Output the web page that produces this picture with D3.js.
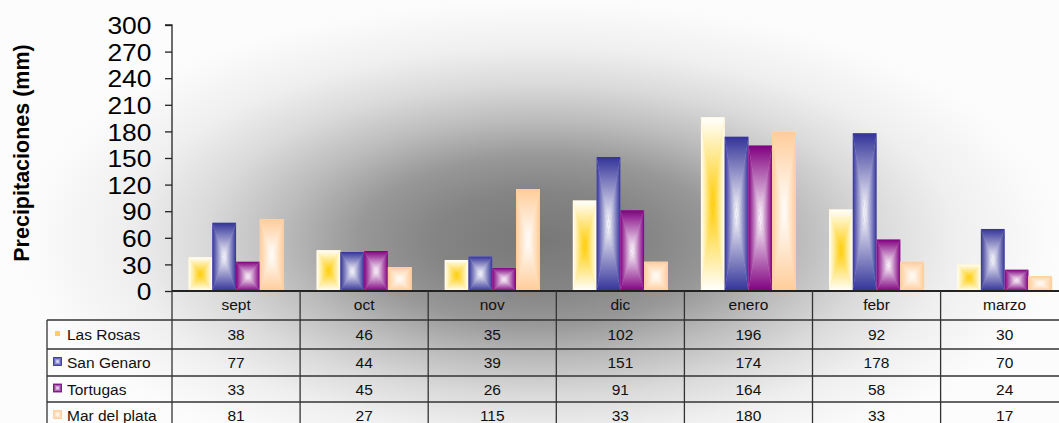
<!DOCTYPE html>
<html>
<head>
<meta charset="utf-8">
<script src="https://cdn.jsdelivr.net/npm/d3@7"></script>
<style>
  html, body { margin: 0; padding: 0; background: #fff; }
  svg { display: block; font-family: "Liberation Sans", Arial, sans-serif; }
</style>
</head>
<body>
<svg id="chart" width="1059" height="423"></svg>
<script>
// ---------- data ----------
const categories = ["sept", "oct", "nov", "dic", "enero", "febr", "marzo"];
const seriesNames = ["Las Rosas", "San Genaro", "Tortugas", "Mar del plata"];
const lasRosas    = [38, 46, 35, 102, 196, 92, 30];
const sanGenaro   = [77, 44, 39, 151, 174, 178, 70];
const tortugas    = [33, 45, 26, 91, 164, 58, 24];
const marDelPlata = [81, 27, 115, 33, 180, 33, 17];
const yTickValues = [0, 30, 60, 90, 120, 150, 180, 210, 240, 270, 300];
const yTitle = "Precipitaciones (mm)";

const seriesValues = [lasRosas, sanGenaro, tortugas, marDelPlata];
// edge colour -> centre colour of each series' "from centre" gradient
const edgeColors   = ["#FFFFFF", "#333399", "#800080", "#FFCC99"];
const centerColors = ["#FFCC00", "#FFFFFF", "#FFFFFF", "#FFFFFF"];

// ---------- layout ----------
const W = 1059, H = 423;
const plotLeft = 172, plotTop = 25, plotBottom = 291;
const catWidth = 128.1;
const groupWidth = 95;
const tableLeft = 47;
const rowLines = [291, 320, 349, 376, 402, 429];

const svg = d3.select("#chart");
const defs = svg.append("defs");

// background radial gradient
const bg = defs.append("radialGradient")
  .attr("id", "bgGrad")
  .attr("gradientUnits", "userSpaceOnUse")
  .attr("cx", 540).attr("cy", 240).attr("r", 520)
  .attr("gradientTransform", (() => { const k = 240 / 520; return `translate(0,${240 * (1 - k)}) scale(1,${k})`; })());
[[0, "#787878"], [0.2, "#848484"], [0.35, "#989898"], [0.5, "#bcbcbc"],
 [0.65, "#dadada"], [0.8, "#efefef"], [0.95, "#f9f9f9"], [1, "#fcfcfc"]]
  .forEach(([o, c]) => bg.append("stop").attr("offset", o).attr("stop-color", c));

svg.append("rect").attr("x", 0).attr("y", 0).attr("width", W).attr("height", H)
  .attr("fill", "url(#bgGrad)");

// bar gradients (4 per series: top, bottom, left, right)
const dirs = {
  top:    [0, 0, 0, 1],
  bottom: [0, 1, 0, 0],
  left:   [0, 0, 1, 0],
  right:  [1, 0, 0, 0]
};
seriesNames.forEach((s, i) => {
  Object.entries(dirs).forEach(([name, v]) => {
    const lg = defs.append("linearGradient")
      .attr("id", `g${i}-${name}`)
      .attr("x1", v[0]).attr("y1", v[1]).attr("x2", v[2]).attr("y2", v[3]);
    lg.append("stop").attr("offset", 0).attr("stop-color", edgeColors[i]);
    lg.append("stop").attr("offset", 1).attr("stop-color", centerColors[i]);
  });
});

function gradBox(g, x, y, w, h, i) {
  const cx = x + w / 2, cy = y + h / 2;
  const grp = g.append("g");
  grp.append("rect").attr("x", x).attr("y", y).attr("width", w).attr("height", h)
    .attr("fill", d3.interpolateRgb(edgeColors[i], centerColors[i])(0.5));
  const tris = {
    top:    [[x, y], [x + w, y], [cx, cy]],
    bottom: [[x, y + h], [x + w, y + h], [cx, cy]],
    left:   [[x, y], [x, y + h], [cx, cy]],
    right:  [[x + w, y], [x + w, y + h], [cx, cy]]
  };
  Object.entries(tris).forEach(([name, pts]) => {
    grp.append("path")
      .attr("d", "M" + pts.map(p => p.join(",")).join("L") + "Z")
      .attr("fill", `url(#g${i}-${name})`);
  });
}

// ---------- scales ----------
const x0 = d3.scaleBand().domain(categories)
  .range([plotLeft, plotLeft + categories.length * catWidth]).padding(0);
const x1 = d3.scaleBand().domain(seriesNames).range([0, groupWidth]).padding(0);
const y = d3.scaleLinear().domain([0, 300]).range([plotBottom, plotTop]);

// ---------- bars ----------
const barsG = svg.append("g");
categories.forEach((c, ci) => {
  const gx = x0(c) + (x0.bandwidth() - groupWidth) / 2;
  seriesNames.forEach((s, si) => {
    const v = seriesValues[si][ci];
    gradBox(barsG, gx + x1(s), y(v), x1.bandwidth(), y(0) - y(v), si);
  });
});

// ---------- y axis ----------
const yAxis = d3.axisLeft(y).tickValues(yTickValues).tickSize(7).tickPadding(13)
  .tickFormat(d3.format("d"));
const yg = svg.append("g").attr("transform", `translate(${plotLeft},0)`).call(yAxis);
yg.select(".domain").attr("stroke", "#222").attr("stroke-width", 1.3).attr("d", `M-7,${plotTop}H0V${plotBottom}`);
yg.selectAll(".tick line").attr("stroke", "#222").attr("stroke-width", 1.3);
yg.selectAll(".tick text")
  .attr("fill", "#000")
  .style("font-family", '"Liberation Sans", Arial, sans-serif')
  .style("font-size", "24px")
  .attr("transform", "scale(1.1,1)")
  .attr("x", -20 / 1.1 - 0.5)
  .attr("dy", "0.36em");

// axis title
svg.append("text")
  .attr("transform", `translate(28.5,153) rotate(-90)`)
  .attr("text-anchor", "middle")
  .style("font-weight", "bold")
  .style("font-size", "21.5px")
  .attr("fill", "#000")
  .text(yTitle);

// x axis line
svg.append("line")
  .attr("x1", plotLeft).attr("x2", W).attr("y1", plotBottom).attr("y2", plotBottom)
  .attr("stroke", "#222").attr("stroke-width", 2);

// ---------- data table ----------
const tableG = svg.append("g");
const lineColor = "#333";
rowLines.slice(1).forEach(ly => {
  tableG.append("line").attr("x1", tableLeft).attr("x2", W)
    .attr("y1", ly).attr("y2", ly).attr("stroke", lineColor).attr("stroke-width", 1.3);
});
tableG.append("line").attr("x1", tableLeft).attr("x2", tableLeft)
  .attr("y1", rowLines[1]).attr("y2", H).attr("stroke", lineColor).attr("stroke-width", 1.3);
categories.forEach(c => {
  tableG.append("line").attr("x1", x0(c)).attr("x2", x0(c))
    .attr("y1", plotBottom).attr("y2", H).attr("stroke", lineColor).attr("stroke-width", 1.3);
});
tableG.append("line").attr("x1", x0.range()[1]).attr("x2", x0.range()[1])
  .attr("y1", plotBottom).attr("y2", H).attr("stroke", lineColor).attr("stroke-width", 1.3);

// header
categories.forEach(c => {
  tableG.append("text")
    .attr("x", x0(c) + x0.bandwidth() / 2).attr("y", 310)
    .attr("text-anchor", "middle").style("font-size", "15.5px").attr("fill", "#111")
    .text(c);
});
// rows
seriesNames.forEach((s, si) => {
  const top = rowLines[si + 1], bot = rowLines[si + 2];
  const base = (top + bot) / 2 + 5.5;
  if (si === 0) {
    tableG.append("rect").attr("x", 55).attr("y", base - 9).attr("width", 5).attr("height", 5)
      .attr("fill", "#FFCC66");
  } else {
    gradBox(tableG, 53.5, base - 10.5, 8, 8, si);
    tableG.append("rect").attr("x", 53.5).attr("y", base - 10.5).attr("width", 8).attr("height", 8)
      .attr("fill", "none").attr("stroke", edgeColors[si]).attr("stroke-width", 1).attr("opacity", 0.8);
  }
  tableG.append("text").attr("x", 67).attr("y", base)
    .style("font-size", "15.5px").attr("fill", "#111").text(s);
  categories.forEach((c, ci) => {
    tableG.append("text")
      .attr("x", x0(c) + x0.bandwidth() / 2).attr("y", base)
      .attr("text-anchor", "middle").style("font-size", "15.5px").attr("fill", "#111")
      .text(seriesValues[si][ci]);
  });
});
</script>
</body>
</html>
